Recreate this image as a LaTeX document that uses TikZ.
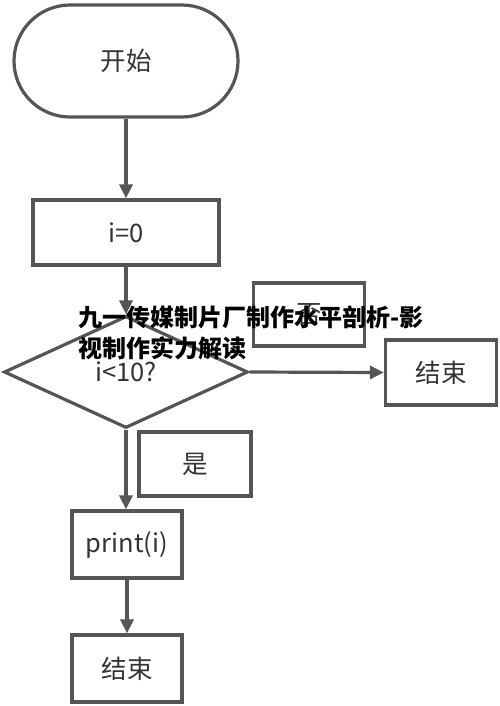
\documentclass[tikz,border=0pt]{standalone}
\usepackage{fontspec}
\setmainfont{Noto Sans CJK SC}
\newfontfamily\cjkb{Noto Sans CJK SC}
\usetikzlibrary{shapes.geometric,shapes.misc,arrows.meta}
\definecolor{linec}{HTML}{555555}
\definecolor{textc}{HTML}{333333}
\begin{document}
\begin{tikzpicture}[x=1pt,y=-1pt,
  box/.style={draw=linec,line width=3.2pt,rectangle,inner sep=0pt,text=textc,font=\fontsize{25.5}{30}\selectfont},
  flow/.style={draw=linec,line width=3.2pt,-{Triangle[length=14pt,width=13pt]}},
  wmark/.style={font=\cjkb\bfseries\fontsize{24}{30}\selectfont,text=black,anchor=west,inner sep=0pt}]
\useasboundingbox (0,0) rectangle (500,706);
\fill[white] (0,0) rectangle (500,706);
\node[box,shape=rounded rectangle,minimum width=224pt,minimum height=112pt] (start) at (126,61) {开始};
\node[box,minimum width=186pt,minimum height=65pt] (init) at (126,232.5) {i=0};
\node[box,shape=diamond,minimum width=244pt,minimum height=112pt,aspect=2.18] (cond) at (126,372) {\raisebox{-3pt}{i<10?}};
\node[box,minimum width=111pt,minimum height=63pt] (no) at (309,314.5) {否};
\node[box,minimum width=111pt,minimum height=65pt] (endr) at (441,372.5) {结束};
\node[box,minimum width=112pt,minimum height=64pt] (yes) at (195,464) {是};
\node[box,minimum width=110pt,minimum height=67pt] (print) at (127,544.5) {print(i)};
\node[box,minimum width=110pt,minimum height=67pt] (endb) at (127,668.5) {结束};
\draw[flow] (start.south) -- (start.south |- init.north);
\draw[flow] (init.south) -- (init.south |- cond.north);
\draw[flow] (cond.east) -- (endr.west);
\draw[flow] (cond.south) -- (cond.south |- print.north);
\draw[flow] (print.south) -- (endb.north);
\node[wmark] (wm1) at (78,317) {九一传媒制片厂制作水平剖析-影};
\node[wmark] (wm2) at (78,348) {视制作实力解读};
\end{tikzpicture}
\end{document}
